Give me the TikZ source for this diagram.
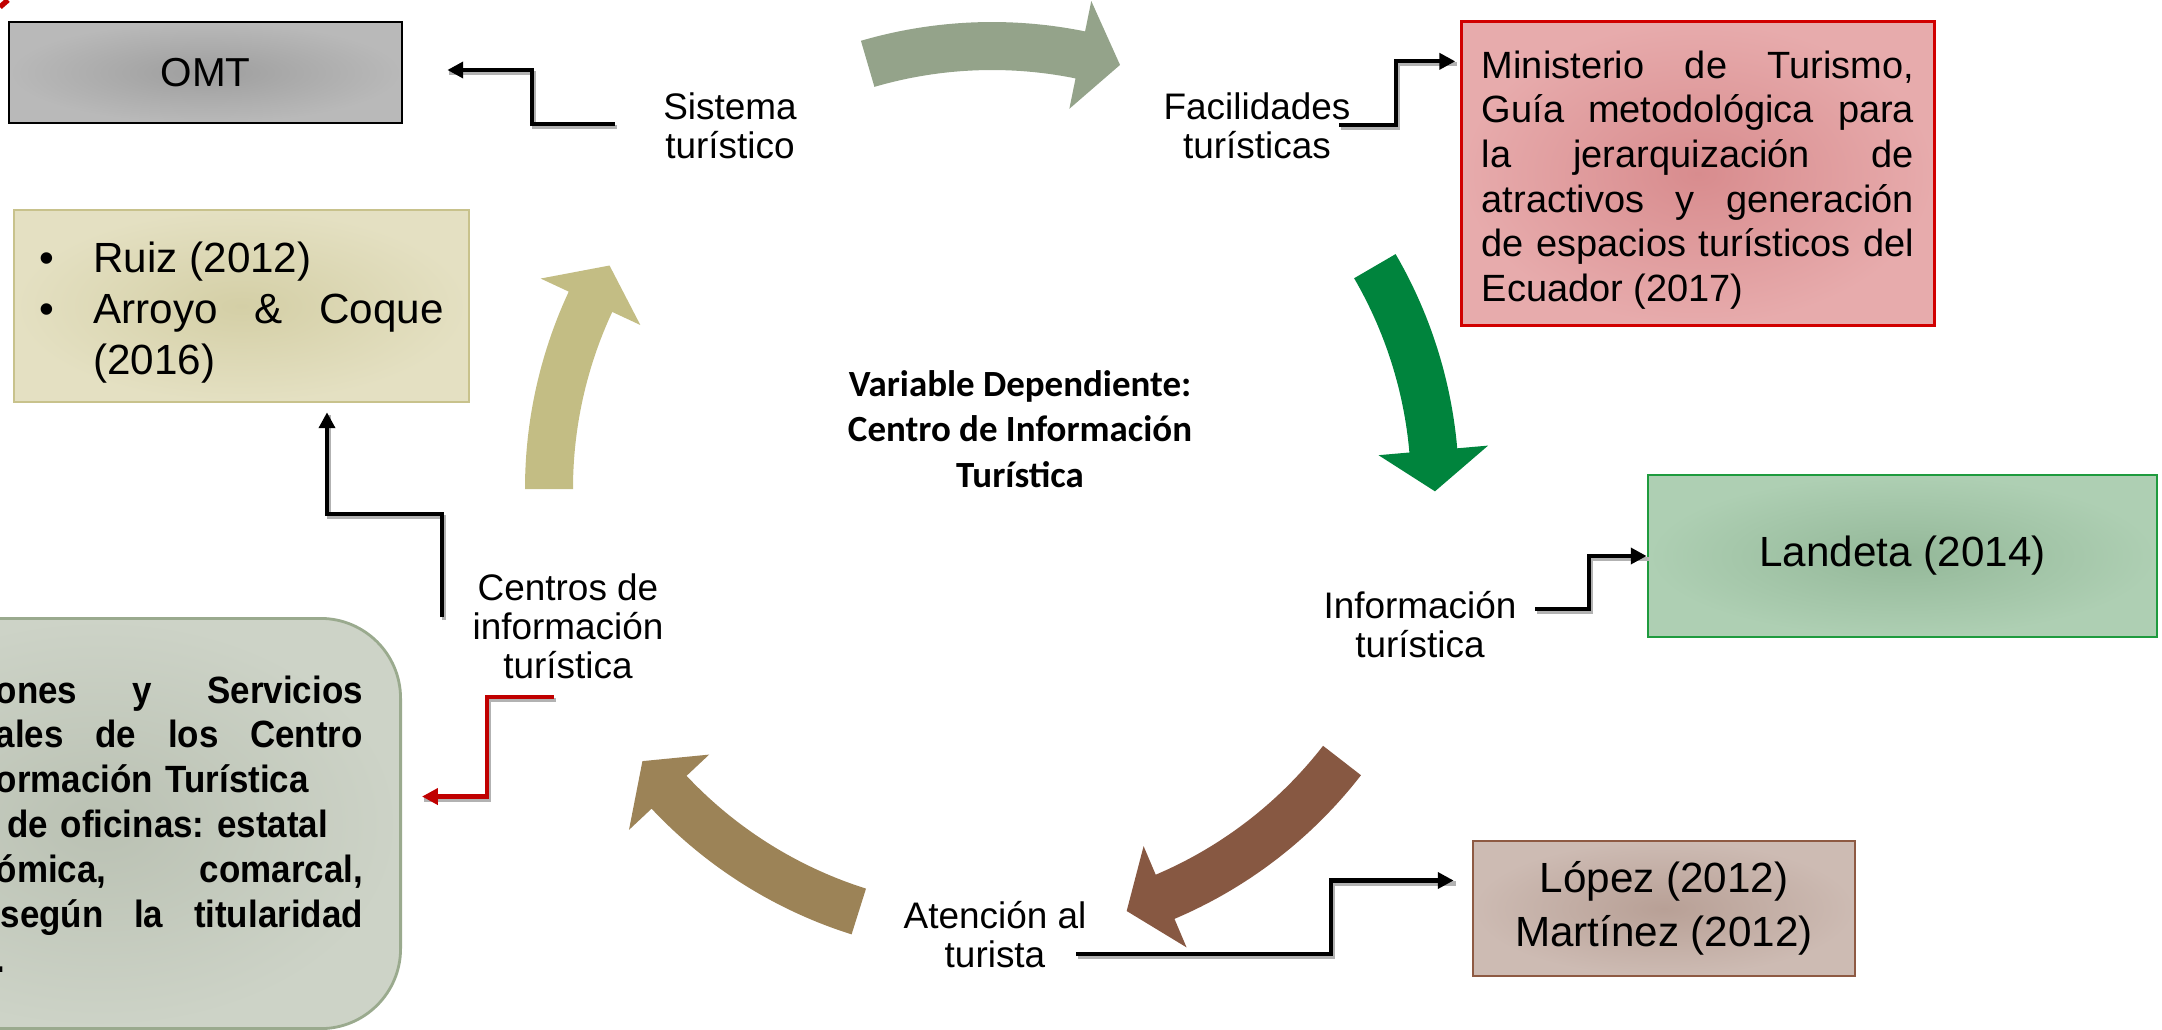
\documentclass[tikz,border=0pt]{standalone}
\usepackage{fontspec}
\setmainfont{Liberation Sans}
\newfontfamily\narrowsans[FakeStretch=0.92]{Liberation Sans}
\newfontfamily\calibrisans{Carlito}
\usetikzlibrary{arrows.meta,calc}

\definecolor{omtin}{HTML}{9E9E9E}
\definecolor{omtout}{HTML}{B9B9B9}
\definecolor{ruizin}{HTML}{D4CFA6}
\definecolor{ruizout}{HTML}{E4E0C2}
\definecolor{ruizline}{HTML}{C8C28C}
\definecolor{minin}{HTML}{D88C8E}
\definecolor{minout}{HTML}{E7ABAC}
\definecolor{minline}{HTML}{D10000}
\definecolor{landin}{HTML}{94B899}
\definecolor{landout}{HTML}{AECFB3}
\definecolor{landline}{HTML}{1E9B3E}
\definecolor{lopin}{HTML}{B8A096}
\definecolor{lopout}{HTML}{CDBBB3}
\definecolor{lopline}{HTML}{8E5A43}
\definecolor{grnin}{HTML}{BAC1B3}
\definecolor{grnout}{HTML}{CDD3C7}
\definecolor{grnline}{HTML}{9AAA8E}
\definecolor{arrgray}{HTML}{94A38A}
\definecolor{arrgreen}{HTML}{00843D}
\definecolor{arrbrown}{HTML}{875842}
\definecolor{arrtan}{HTML}{9C8357}
\definecolor{arrbeige}{HTML}{C3BD84}
\definecolor{linkred}{HTML}{C00000}

\begin{document}
\begin{tikzpicture}[x=0.01cm, y=-0.01cm,
    lbl/.style={font=\fontsize{10.5}{11}\selectfont, align=center, inner sep=0pt},
    refbox/.style={draw, line width=0.7pt, inner sep=0pt},
    link/.style={line width=1.2pt, -{Triangle[length=4.5pt,width=4.5pt]},
      preaction={draw=black!30, line width=1.2pt, -, transform canvas={shift={(2,3)}}}}]
  \useasboundingbox (0,0) rectangle (2162,1030);
  \clip (0,0) rectangle (2162,1030);
  \draw[linkred, line width=1.5pt] (0,7) -- (8,0);

  \coordinate (hub) at (992,489);
  \foreach \ta/\tb/\col in {253.7/281.5/arrgray, 329.8/355/arrgreen, 37.8/67/arrbrown, 107.5/136.8/arrtan, 180/205/arrbeige}
    \fill[\col] ($(hub)+(\ta:467)$) arc[start angle=\ta, end angle=\tb, radius=467]
      -- ($(hub)+(\tb:498)$) -- ($(hub)+(\tb+5.3:443)$) -- ($(hub)+(\tb:388)$)
      -- ($(hub)+(\tb:419)$) arc[start angle=\tb, end angle=\ta, radius=419] -- cycle;

  \node[refbox, draw=black, inner color=omtin, outer color=omtout, minimum width=3.93cm, minimum height=1.01cm,
    font=\fontsize{11.5}{13}\selectfont] (omt) at (205.5,72.5) {OMT};
  \node[refbox, draw=ruizline, inner color=ruizin, outer color=ruizout, minimum width=4.55cm, minimum height=1.92cm,
    text width=4.04cm, text height=12.2pt, align=justify, font=\fontsize{12}{14.5}\selectfont] (ruiz) at (241.5,306)
    {\makebox[0.54cm][l]{\textbullet}Ruiz (2012)\par
     \makebox[0.54cm][l]{\textbullet}\parbox[t]{3.5cm}{Arroyo \& Coque (2016)}};
  \node[refbox, draw=minline, line width=0.9pt, inner color=minin, outer color=minout, minimum width=4.72cm,
    minimum height=3.03cm, text width=4.32cm, text height=11.6pt, align=justify,
    font=\fontsize{10.8}{12.7}\selectfont] (min) at (1698,173.5)
    {Ministerio de Turismo,\linebreak Guía metodológica para\linebreak la jerarquización de\linebreak
     atractivos y generación\linebreak de espacios turísticos del\linebreak Ecuador (2017)};
  \node[refbox, draw=landline, inner color=landin, outer color=landout, minimum width=5.09cm, minimum height=1.62cm,
    font=\fontsize{12}{14}\selectfont] (land) at (1902.5,556) {Landeta (2014)};
  \node[refbox, draw=lopline, inner color=lopin, outer color=lopout, minimum width=3.82cm, minimum height=1.35cm,
    align=center, font=\fontsize{12}{15.2}\selectfont] (lop) at (1664,908.5) {López (2012)\\Martínez (2012)};
  \node[draw=grnline, line width=0.8pt, rounded corners=0.8cm, inner color=grnin, outer color=grnout,
    minimum width=6cm, minimum height=4.1cm, anchor=north east] (grn) at (402,617) {};
  \node[inner sep=0pt, anchor=base west, text width=3.67cm, align=left,
    font=\narrowsans\bfseries\frenchspacing\fontsize{10.8}{12.75}\selectfont] (grntxt) at (-5,703)
    {ones\hfill y\hfill Servicios\\
     ales\hfill de\hfill los\hfill Centro\\
     ormación Turística\\
     \hfill de oficinas: estatal\rule{0.35cm}{0pt}\\
     ómica,\hfill comarcal,\\
     \hspace*{0.05cm}según\hfill la\hfill titularidad\\
     .};

  \node[lbl, anchor=base] (sis) at (730,158) {Sistema\\turístico};
  \node[lbl, anchor=base] (fac) at (1257,158) {Facilidades\\turísticas};
  \node[lbl, anchor=base] (inf) at (1420,657) {Información\\turística};
  \node[lbl, anchor=base] (ate) at (995,967) {Atención al\\turista};
  \node[lbl, anchor=base] (cen) at (568,678) {Centros de\\información\\turística};
  \node[font=\calibrisans\bfseries\fontsize{10.5}{12.8}\selectfont, align=center, inner sep=0pt, anchor=base] (var)
    at (1020,487) {Variable Dependiente:\\Centro de Información\\Turística};

  \draw[link] ($(sis.base west)+(-48,-34)$) -| ($(omt.east)+(129,-2.5)$) -- ($(omt.east)+(44,-2.5)$);
  \draw[link] ($(fac.base east)+(-12,-33)$) -| ($(min.north west)+(-64,41)$) -- ($(min.north west)+(-5,41)$);
  \draw[link] ($(inf.base east)+(18,-48)$) -| ($(land.west)+(-58,0)$) -- (land.west);
  \draw[link] ($(ate.base east)+(-11,-13)$) -| ($(lop.west)+(-141,-28)$) -- ($(lop.west)+(-18,-28)$);
  \draw[link] ($(cen.base west)+(-30,-61)$) |- ($(ruiz.south)+(85.5,111)$) -- ($(ruiz.south)+(85.5,9)$);
  \draw[link, draw=linkred, -{Triangle[length=4.5pt,width=4.5pt,fill=linkred]}] ($(cen.base)+(-14,19)$)
    -| ($(grn.east)+(85,-27)$) -- ($(grn.east)+(20,-27)$);
\end{tikzpicture}
\end{document}
